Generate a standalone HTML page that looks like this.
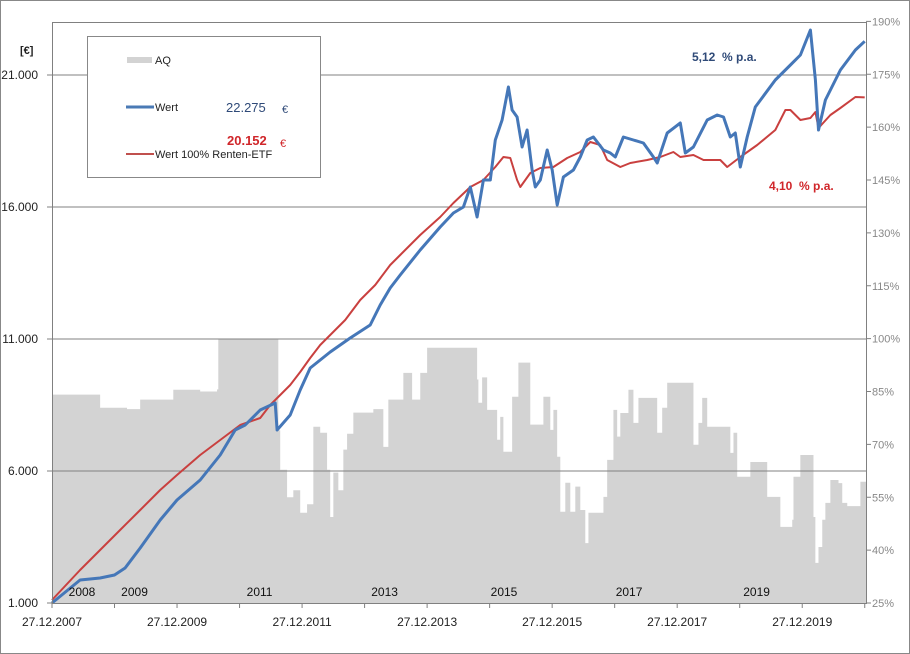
<!DOCTYPE html>
<html><head><meta charset="utf-8">
<style>
html,body{margin:0;padding:0;background:#fff;}
svg{display:block;font-family:"Liberation Sans",Arial,sans-serif;}
</style></head>
<body>
<svg id="chart" width="910" height="654" viewBox="0 0 910 654">
  <rect x="0.5" y="0.5" width="909" height="653" fill="#fff" stroke="#888"/>
  <g id="aq-layer"></g>
  <g id="grid"></g>
  <g id="lines"></g>
  <g id="axes"></g>
  <text x="20" y="54" font-size="11" font-weight="bold" fill="#222">[€]</text>
  <g>
    <rect x="87.5" y="36.5" width="233" height="141" fill="#fff" stroke="#888"/>
    <rect x="127" y="57" width="25" height="6" fill="#d3d3d3"/>
    <text x="155" y="64" font-size="11" fill="#222">AQ</text>
    <line x1="126" y1="107" x2="154" y2="107" stroke="#4a7ab5" stroke-width="3"/>
    <text x="155" y="111" font-size="11" fill="#222">Wert</text>
    <text x="226" y="112" font-size="13" fill="#2f4a78">22.275</text>
    <text x="282" y="113" font-size="11" fill="#2f4a78">€</text>
    <text x="227" y="145" font-size="13" font-weight="bold" fill="#d0262a">20.152</text>
    <text x="280" y="147" font-size="11" fill="#d0262a">€</text>
    <line x1="126" y1="154" x2="154" y2="154" stroke="#c0504d" stroke-width="2"/>
    <text x="155" y="158" font-size="11" fill="#222">Wert 100% Renten-ETF</text>
  </g>
  <text x="692" y="61" font-size="12" font-weight="bold" fill="#2f4a78">5,12 &#160;% p.a.</text>
  <text x="769" y="190" font-size="12" font-weight="bold" fill="#d0262a">4,10 &#160;% p.a.</text>
</svg>
<script>
// ---- data ----
const leftTicks = [1000, 6000, 11000, 16000, 21000];
const leftTickLabels = ["1.000", "6.000", "11.000", "16.000", "21.000"];
const rightTicks = [25, 40, 55, 70, 85, 100, 115, 130, 145, 160, 175, 190];
const dateTicks = [2008, 2010, 2012, 2014, 2016, 2018, 2020];
const dateTickLabels = ["27.12.2007", "27.12.2009", "27.12.2011", "27.12.2013", "27.12.2015", "27.12.2017", "27.12.2019"];
const yearLabels = ["2008", "2009", "2011", "2013", "2015", "2017", "2019"];
const yearLabelPos = [2008.48, 2009.32, 2011.32, 2013.32, 2015.23, 2017.23, 2019.27];

const wertT = [2008.00,2008.45,2008.77,2009.00,2009.17,2009.41,2009.73,2010.00,2010.37,2010.69,2010.93,2011.09,2011.33,2011.57,2011.60,2011.81,2011.97,2012.13,2012.45,2012.77,2013.09,2013.25,2013.41,2013.57,2013.89,2014.21,2014.42,2014.58,2014.69,2014.80,2014.90,2015.01,2015.09,2015.20,2015.30,2015.36,2015.44,2015.52,2015.60,2015.68,2015.73,2015.81,2015.92,2016.00,2016.08,2016.18,2016.34,2016.45,2016.56,2016.66,2016.82,2016.93,2017.01,2017.14,2017.30,2017.46,2017.62,2017.68,2017.84,2018.05,2018.13,2018.26,2018.48,2018.64,2018.74,2018.85,2018.93,2019.01,2019.12,2019.25,2019.57,2019.81,2019.97,2020.13,2020.21,2020.26,2020.37,2020.61,2020.85,2021.00];
const wertV = [1000,1871,1947,2061,2326,3083,4144,4902,5659,6606,7553,7743,8311,8576,7553,8121,9068,9902,10508,11038,11531,12288,12932,13425,14372,15243,15773,16000,16758,15622,17023,17023,18538,19296,20546,19674,19410,18273,18917,17402,16758,17023,18160,17402,16076,17137,17402,17894,18538,18652,18160,18046,17894,18652,18538,18425,17894,17667,18804,19182,18046,18273,19296,19485,19410,18652,18804,17516,18652,19789,20811,21379,21758,22705,20811,18917,20053,21190,21947,22275];

const rentenT = [2008.00,2008.45,2008.77,2009.09,2009.41,2009.73,2010.00,2010.37,2010.69,2011.01,2011.33,2011.49,2011.65,2011.81,2011.97,2012.13,2012.29,2012.45,2012.69,2012.93,2013.17,2013.41,2013.57,2013.89,2014.21,2014.42,2014.69,2014.90,2015.09,2015.22,2015.33,2015.44,2015.49,2015.65,2015.81,2016.02,2016.24,2016.45,2016.61,2016.77,2016.88,2017.09,2017.25,2017.52,2017.73,2017.94,2018.05,2018.26,2018.42,2018.69,2018.80,2019.01,2019.28,2019.57,2019.73,2019.81,2019.97,2020.13,2020.21,2020.26,2020.45,2020.61,2020.85,2021.00];
const rentenV = [1114,2250,3008,3765,4523,5280,5849,6606,7174,7743,8008,8500,8879,9258,9750,10281,10773,11152,11720,12478,13046,13803,14182,14940,15622,16152,16758,17023,17516,17894,17857,17023,16758,17288,17478,17516,17857,18084,18463,18349,17781,17516,17667,17781,17894,18084,17894,17970,17781,17781,17516,17894,18349,18917,19675,19675,19296,19371,19599,18993,19485,19751,20167,20152];

const aqT = [2008.00,2008.77,2009.20,2009.41,2009.94,2010.37,2010.64,2010.66,2011.60,2011.62,2011.65,2011.76,2011.86,2011.97,2012.08,2012.18,2012.29,2012.40,2012.45,2012.50,2012.58,2012.66,2012.72,2012.82,2013.14,2013.28,2013.30,2013.38,2013.62,2013.76,2013.89,2014.00,2014.77,2014.80,2014.82,2014.88,2014.96,2015.12,2015.17,2015.22,2015.36,2015.46,2015.62,2015.65,2015.86,2015.97,2016.02,2016.08,2016.13,2016.21,2016.29,2016.37,2016.45,2016.53,2016.58,2016.82,2016.88,2016.98,2017.04,2017.09,2017.22,2017.30,2017.38,2017.68,2017.76,2017.84,2018.24,2018.26,2018.34,2018.40,2018.48,2018.80,2018.85,2018.90,2018.96,2019.17,2019.41,2019.44,2019.60,2019.65,2019.84,2019.86,2019.97,2020.16,2020.18,2020.21,2020.26,2020.32,2020.37,2020.45,2020.58,2020.64,2020.72,2020.82,2020.93];
const aqV = [84.1,80.4,80.0,82.7,85.5,85.0,85.6,100,100,74,62.8,55,57,50.6,53,75,73.3,62.8,49.4,62,57,68.5,73,79,80,80,69.3,82.7,90.3,82.7,90.3,97.4,97.4,88.4,81.8,89,79.8,71.3,77.8,67.9,83.5,93.2,93.2,75.6,83.5,74.1,79.8,66.5,50.9,59.1,50.9,58,51.4,42,50.6,55.1,65.6,79.8,72.2,78.9,85.5,76.1,83.2,73.3,80.4,87.5,87.5,69.9,76.1,83.2,75,75,67.6,73.3,60.8,65,65,55.1,55.1,46.6,48.6,60.8,67,67,49.4,36.4,40.9,48.6,53.4,59.9,59,53.4,52.5,52.5,59.4];

// ---- axes ----
const X0 = 52, X1 = 866, T0 = 2008.0, T1 = 2021.02;
const xs = t => X0 + (t - T0) * (X1 - X0) / (T1 - T0);
const yL = v => 603 - (v - 1000) * 132 / 5000;
const yR = p => 603 - (p - 25) * 3.525;
const NS = "http://www.w3.org/2000/svg";
function mk(tag, attrs, parent) {
  const e = document.createElementNS(NS, tag);
  for (const k in attrs) e.setAttribute(k, attrs[k]);
  parent.appendChild(e);
  return e;
}
const aqG = document.getElementById('aq-layer');
const gridG = document.getElementById('grid');
const lineG = document.getElementById('lines');
const axG = document.getElementById('axes');

// AQ step area
let aqPath = "M" + xs(aqT[0]) + "," + yR(25);
for (let i = 0; i < aqT.length; i++) {
  const xa = xs(aqT[i]);
  const xb = i + 1 < aqT.length ? xs(aqT[i + 1]) : X1;
  aqPath += " L" + xa + "," + yR(aqV[i]) + " L" + xb + "," + yR(aqV[i]);
}
aqPath += " L" + X1 + "," + yR(25) + " Z";
const aqArea = mk('path', {d: aqPath, fill: '#d3d3d3'}, aqG);



// gridlines and left labels
leftTicks.forEach((v, i) => {
  const y = yL(v);
  if (i > 0) {
    const g = mk('line', {x1: X0, x2: X1, y1: y, y2: y, stroke: '#808080', 'stroke-width': 1}, gridG);
    
    
  }
  const tk = mk('line', {x1: X0 - 5, x2: X0, y1: y, y2: y, stroke: '#808080'}, axG);
  
  
  const t = mk('text', {x: 38, y: y + 4, 'font-size': 12, 'text-anchor': 'end', fill: '#222'}, axG);
  t.textContent = leftTickLabels[i];
  
  
});
// plot frame
const plotTop = mk('line', {x1: X0, x2: X1, y1: 22.5, y2: 22.5, stroke: '#808080'}, axG);


const leftAxis = mk('line', {x1: X0 + 0.5, x2: X0 + 0.5, y1: 22, y2: 603, stroke: '#808080'}, axG);


const rightAxis = mk('line', {x1: X1 + 0.5, x2: X1 + 0.5, y1: 22, y2: 604, stroke: '#808080'}, axG);


const xAxisLine = mk('line', {x1: X0, x2: X1, y1: 603.5, y2: 603.5, stroke: '#808080'}, axG);



rightTicks.forEach(p => {
  const y = yR(p);
  const tk = mk('line', {x1: X1, x2: X1 + 5, y1: y, y2: y, stroke: '#808080'}, axG);
  
  
  const t = mk('text', {x: 872, y: y + 4, 'font-size': 11, fill: '#888'}, axG);
  t.textContent = p + "%";
  
  
});
for (let yr = 2008; yr <= 2021; yr++) {
  const x = xs(yr);
  const tk = mk('line', {x1: x, x2: x, y1: 603, y2: 608, stroke: '#808080'}, axG);
  
  
}
dateTicks.forEach((t, i) => {
  const tx = mk('text', {x: xs(t), y: 626, 'font-size': 12, 'text-anchor': 'middle', fill: '#222'}, axG);
  tx.textContent = dateTickLabels[i];
  
  
});
yearLabels.forEach((s, i) => {
  const tx = mk('text', {x: xs(yearLabelPos[i]), y: 596, 'font-size': 12, 'text-anchor': 'middle', fill: '#111'}, axG);
  tx.textContent = s;
  
  
});

// lines
function linePath(T, V) {
  return T.map((t, i) => (i ? "L" : "M") + xs(t).toFixed(1) + "," + yL(V[i]).toFixed(1)).join(" ");
}
const rentenLine = mk('path', {d: linePath(rentenT, rentenV), fill: 'none', stroke: '#c9403f', 'stroke-width': 2, 'stroke-linejoin': 'round'}, lineG);


const wertLine = mk('path', {d: linePath(wertT, wertV), fill: 'none', stroke: '#4577b8', 'stroke-width': 3, 'stroke-linejoin': 'round'}, lineG);


</script>
</body></html>
